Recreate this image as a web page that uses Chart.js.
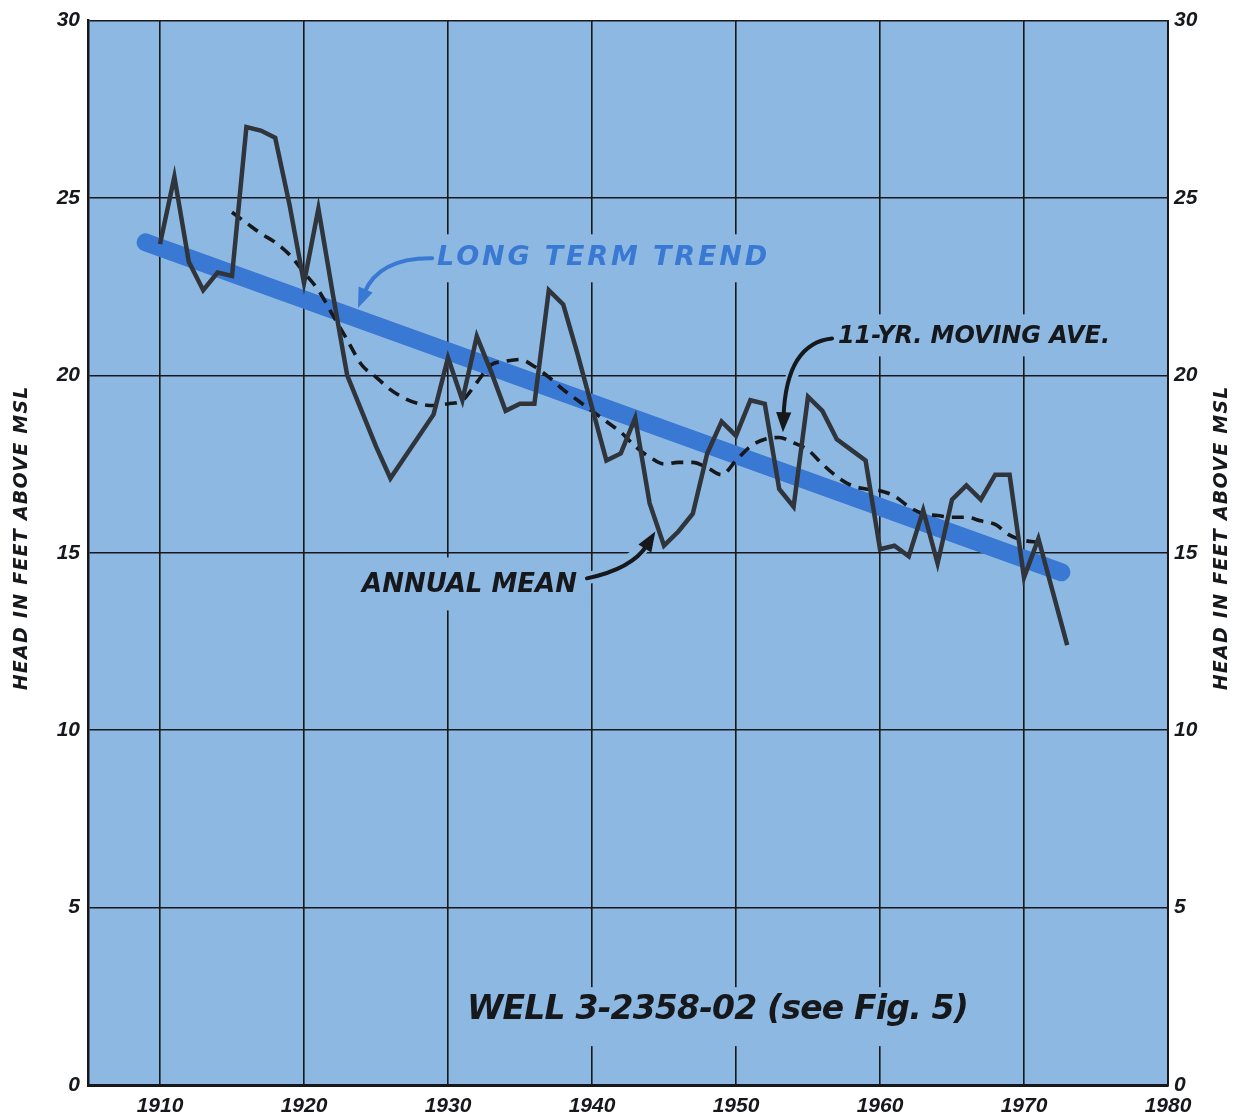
<!DOCTYPE html>
<html lang="en">
<head>
  <meta charset="UTF-8" />
  <title>Well 3-2358-02 | Head in feet above MSL</title>
  <script src="https://cdn.jsdelivr.net/npm/chart.js"></script>
  <style>
    html, body { margin: 0; padding: 0; background: #ffffff; }
    #wellChart { display: block; }
  </style>
</head>
<body>

<canvas id="wellChart" width="1241" height="1117"></canvas>

<script>
  // Values
  const annualYears = [1910, 1911, 1912, 1913, 1914, 1915, 1916, 1917, 1918, 1919,
                       1920, 1921, 1922, 1923, 1924, 1925, 1926, 1927, 1928, 1929,
                       1930, 1931, 1932, 1933, 1934, 1935, 1936, 1937, 1938, 1939,
                       1940, 1941, 1942, 1943, 1944, 1945, 1946, 1947, 1948, 1949,
                       1950, 1951, 1952, 1953, 1954, 1955, 1956, 1957, 1958, 1959,
                       1960, 1961, 1962, 1963, 1964, 1965, 1966, 1967, 1968, 1969,
                       1970, 1971, 1972, 1973];
  const annualMean = [23.7, 25.6, 23.2, 22.4, 22.9, 22.8, 27.0, 26.9, 26.7, 24.8,
                      22.6, 24.7, 22.3, 20.0, 19.0, 18.0, 17.1, 17.7, 18.3, 18.9,
                      20.5, 19.3, 21.1, 20.1, 19.0, 19.2, 19.2, 22.4, 22.0, 20.6,
                      19.1, 17.6, 17.8, 18.8, 16.4, 15.2, 15.6, 16.1, 17.8, 18.7,
                      18.3, 19.3, 19.2, 16.8, 16.3, 19.4, 19.0, 18.2, 17.9, 17.6,
                      15.1, 15.2, 14.9, 16.2, 14.7, 16.5, 16.9, 16.5, 17.2, 17.2,
                      14.3, 15.4, 13.9, 12.4];

  const movingYears = [1915, 1916, 1917, 1918, 1919, 1920, 1921, 1922, 1923, 1924,
                       1925, 1926, 1927, 1928, 1929, 1930, 1931, 1932, 1933, 1934,
                       1935, 1936, 1937, 1938, 1939, 1940, 1941, 1942, 1943, 1944,
                       1945, 1946, 1947, 1948, 1949, 1950, 1951, 1952, 1953, 1954,
                       1955, 1956, 1957, 1958, 1959, 1960, 1961, 1962, 1963, 1964,
                       1965, 1966, 1967, 1968, 1969, 1970, 1971];
  const movingAve = [24.6, 24.3, 24.0, 23.75, 23.4, 22.9, 22.4, 21.7, 21.0, 20.3,
                     19.95, 19.6, 19.35, 19.2, 19.15, 19.2, 19.3, 19.8, 20.3, 20.4,
                     20.45, 20.25, 19.95, 19.6, 19.3, 19.0, 18.7, 18.4, 18.0, 17.7,
                     17.5, 17.55, 17.55, 17.4, 17.2, 17.6, 18.0, 18.2, 18.25, 18.1,
                     17.9, 17.5, 17.15, 16.9, 16.8, 16.75, 16.6, 16.3, 16.1, 16.05,
                     16.0, 16.0, 15.9, 15.8, 15.5, 15.35, 15.3];

  const trendYears = [1909, 1972.6];
  const trendValues = [23.75, 14.45];

  const xTicks = [1910, 1920, 1930, 1940, 1950, 1960, 1970, 1980];
  const yTicks = [0, 5, 10, 15, 20, 25, 30];

  const axisTitle = 'HEAD IN FEET ABOVE MSL';

  // colours
  const plotBg = '#8cb8e2';
  const ink = '#16181c';
  const lineInk = '#30343b';
  const blueInk = '#3a79d3';
  const fam = '"DejaVu Sans", "Liberation Sans", sans-serif';
  const tickFam = '"Liberation Sans", "DejaVu Sans", sans-serif';

  // lettering + arrows, anchored in data units
  const notes = [
    { text: 'LONG TERM TREND', x: 1929.24, y: 23.3, size: 27, weight: 'bold', width: 333, color: blueInk,
      pad: [12, 24, 24], arrow: [[1928.9, 23.3], [1925.2, 23.32], [1923.75, 21.9]] },
    { text: '11-YR. MOVING AVE.', x: 1957.08, y: 21.1, size: 24, weight: 'bold', width: 272, color: ink,
      pad: [10, 22, 20], arrow: [[1956.67, 21.04], [1953.5, 20.9], [1953.26, 18.4]] },
    { text: 'ANNUAL MEAN', x: 1924.03, y: 14.08, size: 26, weight: 'bold', width: 215, color: ink,
      pad: [12, 28, 25], arrow: [[1939.65, 14.28], [1942.8, 14.55], [1944.4, 15.6]] },
    { text: 'WELL 3-2358-02 (see Fig. 5)', x: 1931.32, y: 2.11, size: 33, weight: 'bold', width: 501, color: ink,
      pad: [10, 23, 36] }
  ];

  function spacedText(ctx, str, x, y, font, width) {
    ctx.font = font;
    ctx.letterSpacing = '0px';
    const w0 = ctx.measureText(str).width;
    const sp = width ? (width - w0) / str.length : 0;
    ctx.letterSpacing = sp + 'px';
    ctx.fillText(str, x, y);
    ctx.letterSpacing = '0px';
  }

  function arrowPath(chart, pts) {
    const xs = chart.scales.x, ys = chart.scales.y;
    return pts.map(p => [xs.getPixelForValue(p[0]), ys.getPixelForValue(p[1])]);
  }

  function strokeArrow(ctx, p, color, width, head) {
    ctx.strokeStyle = color;
    ctx.fillStyle = color;
    ctx.lineWidth = width;
    ctx.lineCap = 'round';
    const ang = Math.atan2(p[2][1] - p[1][1], p[2][0] - p[1][0]);
    const back = [p[2][0] - Math.cos(ang) * head * 0.8, p[2][1] - Math.sin(ang) * head * 0.8];
    ctx.beginPath();
    ctx.moveTo(p[0][0], p[0][1]);
    ctx.quadraticCurveTo(p[1][0], p[1][1], back[0], back[1]);
    ctx.stroke();
    if (head > 0) {
      ctx.beginPath();
      ctx.moveTo(p[2][0], p[2][1]);
      ctx.lineTo(p[2][0] - Math.cos(ang) * head + Math.sin(ang) * head * 0.38,
                 p[2][1] - Math.sin(ang) * head - Math.cos(ang) * head * 0.38);
      ctx.lineTo(p[2][0] - Math.cos(ang) * head - Math.sin(ang) * head * 0.38,
                 p[2][1] - Math.sin(ang) * head + Math.cos(ang) * head * 0.38);
      ctx.closePath();
      ctx.fill();
    }
  }

  const paper = {
    id: 'paper',
    beforeDraw(chart) {
      const { ctx, chartArea: a } = chart;
      ctx.save();
      ctx.fillStyle = plotBg;
      ctx.fillRect(a.left, a.top, a.width, a.height);
      ctx.restore();
    },
    // knock the grid out behind the lettering, like the original drafting
    beforeDatasetsDraw(chart) {
      const { ctx } = chart;
      ctx.save();
      notes.forEach(n => {
        const px = chart.scales.x.getPixelForValue(n.x);
        const py = chart.scales.y.getPixelForValue(n.y);
        ctx.fillStyle = plotBg;
        ctx.fillRect(px - n.pad[0], py - n.pad[1], n.width + n.pad[0] * 2, n.pad[1] + n.pad[2]);
        if (n.arrow) strokeArrow(ctx, arrowPath(chart, n.arrow), plotBg, 12, 0);
      });
      ctx.restore();
    },
    afterDatasetsDraw(chart) {
      const { ctx } = chart;
      ctx.save();
      ctx.textAlign = 'left';
      ctx.textBaseline = 'middle';
      notes.forEach(n => {
        const px = chart.scales.x.getPixelForValue(n.x);
        const py = chart.scales.y.getPixelForValue(n.y);
        ctx.fillStyle = n.color;
        spacedText(ctx, n.text, px, py, `italic ${n.weight} ${n.size}px ${fam}`, n.width);
        if (n.arrow) strokeArrow(ctx, arrowPath(chart, n.arrow), n.color, 4, 20);
      });
      ctx.restore();
    },
    afterDraw(chart) {
      const { ctx, chartArea: a } = chart;
      const midY = (a.top + a.bottom) / 2 - 15;
      [a.left - 66, a.right + 54].forEach(x => {
        ctx.save();
        ctx.translate(x, midY);
        ctx.rotate(-Math.PI / 2);
        ctx.textAlign = 'left';
        ctx.textBaseline = 'middle';
        ctx.fillStyle = ink;
        const w = 305;
        spacedText(ctx, axisTitle, -w / 2, 0, `italic bold 19px ${fam}`, w);
        ctx.restore();
      });
    }
  };

  const tickFont = { family: tickFam, size: 21, style: 'italic', weight: 'bold' };
  const gridOpts = { color: ink, lineWidth: 1.6, drawTicks: false };

  const ctx = document.getElementById('wellChart').getContext('2d');
  const wellChart = new Chart(ctx, {
    type: 'line',
    data: {
      datasets: [
        {
          label: 'Annual mean',
          data: annualYears.map((yr, i) => ({ x: yr, y: annualMean[i] })),
          borderColor: lineInk,
          borderWidth: 4.5,
          pointRadius: 0,
          tension: 0,
          order: 1
        },
        {
          label: '11-yr. moving ave.',
          data: movingYears.map((yr, i) => ({ x: yr, y: movingAve[i] })),
          borderColor: ink,
          borderWidth: 3.6,
          borderDash: [12, 8],
          pointRadius: 0,
          cubicInterpolationMode: 'monotone',
          order: 2
        },
        {
          label: 'Long term trend',
          data: trendYears.map((yr, i) => ({ x: yr, y: trendValues[i] })),
          borderColor: blueInk,
          borderWidth: 18,
          borderCapStyle: 'round',
          pointRadius: 0,
          order: 3
        }
      ]
    },
    options: {
      responsive: false,
      animation: false,
      layout: { padding: { top: 20, left: 0, right: 0, bottom: 0 } },
      plugins: {
        legend: { display: false },
        tooltip: { enabled: false }
      },
      scales: {
        x: {
          type: 'linear',
          min: 1905,
          max: 1980,
          afterBuildTicks: s => { s.ticks = xTicks.map(v => ({ value: v })); },
          afterFit: s => { s.height = 32; },
          grid: gridOpts,
          border: { color: ink, width: 3 },
          ticks: { color: ink, font: tickFont, padding: 9, maxRotation: 0, autoSkip: false,
                   callback: v => String(v) }
        },
        y: {
          position: 'left',
          min: 0,
          max: 30,
          afterBuildTicks: s => { s.ticks = yTicks.map(v => ({ value: v })); },
          afterFit: s => { s.width = 88; },
          grid: gridOpts,
          border: { color: ink, width: 2.5 },
          ticks: { color: ink, font: tickFont, padding: 8, callback: v => String(v) }
        },
        y2: {
          position: 'right',
          min: 0,
          max: 30,
          afterBuildTicks: s => { s.ticks = yTicks.map(v => ({ value: v })); },
          afterFit: s => { s.width = 73; },
          grid: { display: false, drawTicks: false },
          border: { display: true, color: ink, width: 2 },
          ticks: { color: ink, font: tickFont, padding: 6, callback: v => String(v) }
        }
      }
    },
    plugins: [paper]
  });
</script>

</body>
</html>
